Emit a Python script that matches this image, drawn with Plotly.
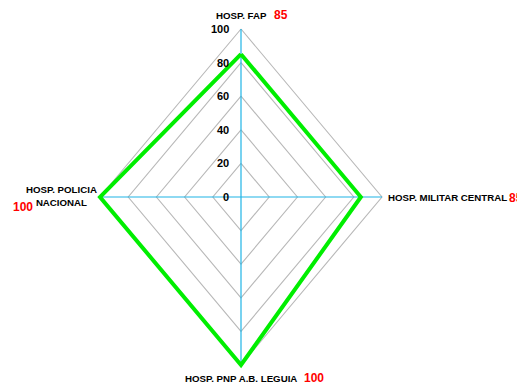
import math
import plotly.graph_objects as go

categories = ["HOSP. FAP", "HOSP. MILITAR CENTRAL", "HOSP. PNP A.B. LEGUIA", "HOSP. POLICIA<br>NACIONAL"]
values = [85, 85, 100, 100]
value_labels = ["85", "85", "100", "100"]
ring_levels = [20, 40, 60, 80, 100]
tick_labels = ["0", "20", "40", "60", "80", "100"]
tick_values = [0, 20, 40, 60, 80, 100]

W, H = 517, 385
CX, CY = 241, 197          # pixel center
SX, SY = 1.41, 1.68        # pixels per unit

x_range = [-CX / SX, (W - CX) / SX]
y_range = [-(H - CY) / SY, CY / SY]

def px_x(p):
    return (p - CX) / SX

def px_y(p):
    return (CY - p) / SY

n = len(categories)
angles = [i * 2 * math.pi / n for i in range(n)]  # clockwise from top

def pt(r, a):
    return r * math.sin(a), r * math.cos(a)

fig = go.Figure()

# grid rings
for r in ring_levels:
    xs, ys = [], []
    for a in angles + [angles[0]]:
        x, y = pt(r, a)
        xs.append(x); ys.append(y)
    fig.add_trace(go.Scatter(x=xs, y=ys, mode="lines",
                             line=dict(color="#b8b8b8", width=1.1),
                             hoverinfo="skip", showlegend=False))

# spokes
rmax = max(ring_levels)
for a in angles:
    x, y = pt(rmax, a)
    fig.add_trace(go.Scatter(x=[0, x], y=[0, y], mode="lines",
                             line=dict(color="#1fb4e6", width=1.2),
                             hoverinfo="skip", showlegend=False))

# data series
xs, ys = [], []
for v, a in zip(values + [values[0]], angles + [angles[0]]):
    x, y = pt(v, a)
    xs.append(x); ys.append(y)
fig.add_trace(go.Scatter(x=xs, y=ys, mode="lines",
                         line=dict(color="#00ee00", width=4),
                         showlegend=False))

FONT = "Liberation Sans, Arial, sans-serif"
ann = []
# radial tick labels
for t, lab in zip(tick_values, tick_labels):
    ann.append(dict(x=px_x(231), y=t, text="<b>%s</b>" % lab,
                    xanchor="right", yanchor="middle", showarrow=False,
                    font=dict(family=FONT, size=11, color="black")))

# category labels
lab_font = dict(family=FONT, size=9.7, color="black")
val_font = dict(family=FONT, size=12, color="red")
# top
ann.append(dict(x=px_x(241), y=px_y(15), text="<b>%s</b>" % categories[0], xanchor="center",
                yanchor="middle", showarrow=False, font=lab_font))
ann.append(dict(x=px_x(272), y=px_y(15), text="<b>%s</b>" % value_labels[0], xanchor="left",
                yanchor="middle", showarrow=False, font=val_font))
# right
ann.append(dict(x=px_x(386), y=px_y(197), text="<b>%s</b>" % categories[1], xanchor="left",
                yanchor="middle", showarrow=False, font=lab_font))
ann.append(dict(x=px_x(507), y=px_y(198), text="<b>%s</b>" % value_labels[1], xanchor="left",
                yanchor="middle", showarrow=False, font=val_font))
# bottom
ann.append(dict(x=px_x(241), y=px_y(378), text="<b>%s</b>" % categories[2], xanchor="center",
                yanchor="middle", showarrow=False, font=lab_font))
ann.append(dict(x=px_x(302), y=px_y(378), text="<b>%s</b>" % value_labels[2], xanchor="left",
                yanchor="middle", showarrow=False, font=val_font))
# left
ann.append(dict(x=px_x(61), y=px_y(196), text="<b>HOSP. POLICIA</b><br><b>NACIONAL</b>",
                xanchor="center", yanchor="middle", align="center", showarrow=False,
                font=lab_font))
ann.append(dict(x=px_x(11), y=px_y(207), text="<b>%s</b>" % value_labels[3], xanchor="left",
                yanchor="middle", showarrow=False, font=val_font))

for a_ in ann:
    a_["xref"] = "x"
    a_["yref"] = "y"

fig.update_layout(
    width=W, height=H,
    margin=dict(l=0, r=0, t=0, b=0),
    paper_bgcolor="white", plot_bgcolor="white",
    xaxis=dict(range=x_range, visible=False, fixedrange=True),
    yaxis=dict(range=y_range, visible=False, fixedrange=True),
    annotations=ann,
    showlegend=False,
)

fig.write_html("out.html")
